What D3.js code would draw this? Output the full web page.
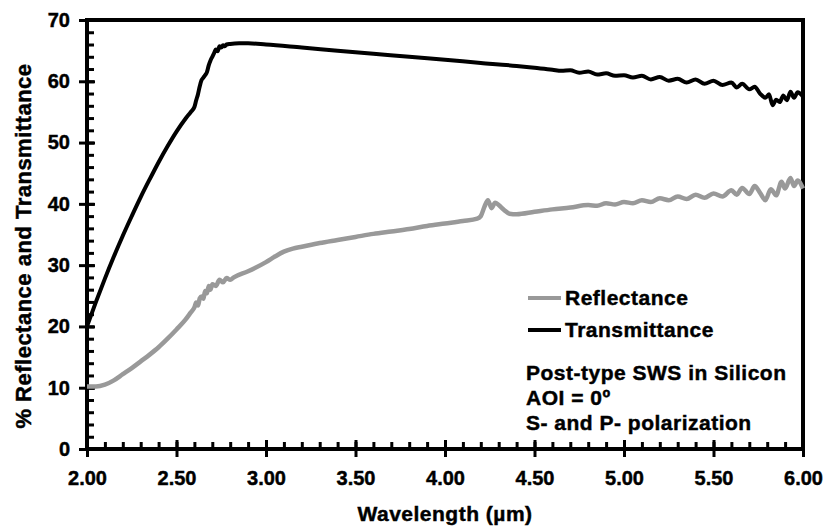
<!DOCTYPE html>
<html>
<head>
<meta charset="utf-8">
<script src="https://cdn.jsdelivr.net/npm/d3@7"></script>
<style>
  body { margin: 0; background: #fff; }
  text { font-family: "Liberation Sans", Arial, sans-serif; font-weight: bold; fill: #000; stroke: #000; stroke-width: 0.45px; }
</style>
</head>
<body>
<svg id="chart" width="827" height="531"></svg>
<script>
// Transmittance (black)
var transWl = [2.00, 2.05, 2.10, 2.15, 2.20, 2.25, 2.30, 2.35, 2.40, 2.45, 2.50, 2.55, 2.58,
  2.60, 2.61, 2.62, 2.63, 2.64, 2.65, 2.66, 2.67, 2.68, 2.69, 2.70, 2.71, 2.72, 2.73, 2.74,
  2.75, 2.76, 2.77, 2.78, 2.80, 2.85, 2.90, 3.00, 3.20, 3.40, 3.60, 3.80, 4.00, 4.20, 4.40,
  4.50, 4.60, 4.65, 4.70, 4.75, 4.80, 4.85, 4.90, 4.95, 5.00, 5.05, 5.10, 5.15, 5.20, 5.25,
  5.30, 5.35, 5.40, 5.45, 5.50, 5.55, 5.60, 5.63, 5.66, 5.70, 5.73, 5.76, 5.79, 5.81, 5.83,
  5.85, 5.87, 5.89, 5.91, 5.93, 5.95, 5.97, 6.00];
var transVal = [20.0, 24.0, 27.8, 31.4, 34.8, 38.0, 41.1, 44.0, 46.8, 49.4, 51.8, 53.9, 55.0,
  55.8, 56.9, 57.9, 59.2, 60.2, 60.6, 61.0, 61.5, 62.6, 63.4, 64.0, 64.6, 65.2, 64.9, 65.7,
  65.5, 65.9, 65.7, 66.0, 66.1, 66.2, 66.2, 66.0, 65.5, 65.0, 64.5, 64.0, 63.5, 63.0, 62.5,
  62.2, 61.9, 61.7, 61.8, 61.4, 61.6, 61.1, 61.3, 60.9, 61.0, 60.6, 60.9, 60.3, 60.7, 60.1,
  60.4, 59.8, 60.3, 59.6, 60.1, 59.4, 59.8, 59.0, 59.6, 58.7, 59.1, 58.0, 57.3, 57.9, 56.1,
  57.0, 56.6, 57.7, 56.9, 58.3, 57.3, 58.2, 57.5];

// Reflectance (grey)
var reflWl = [2.00, 2.05, 2.10, 2.15, 2.20, 2.25, 2.30, 2.35, 2.40, 2.45, 2.50, 2.55, 2.58,
  2.60, 2.61, 2.62, 2.63, 2.64, 2.65, 2.66, 2.67, 2.68, 2.69, 2.70, 2.72, 2.74, 2.76, 2.78,
  2.80, 2.82, 2.90, 3.00, 3.05, 3.10, 3.15, 3.20, 3.30, 3.40, 3.50, 3.60, 3.70, 3.80, 3.90,
  4.00, 4.10, 4.18, 4.20, 4.22, 4.24, 4.26, 4.28, 4.30, 4.33, 4.36, 4.40, 4.50, 4.60, 4.70,
  4.80, 4.85, 4.90, 4.95, 5.00, 5.05, 5.10, 5.15, 5.20, 5.25, 5.30, 5.35, 5.40, 5.45, 5.50,
  5.55, 5.60, 5.63, 5.66, 5.70, 5.73, 5.76, 5.79, 5.82, 5.85, 5.88, 5.90, 5.93, 5.95, 5.97, 6.00];
var reflVal = [10.2, 10.2, 10.5, 11.2, 12.2, 13.2, 14.3, 15.4, 16.6, 18.0, 19.5, 21.1, 22.3,
  23.1, 23.9, 23.4, 24.6, 24.9, 24.5, 25.8, 25.4, 26.6, 26.0, 26.9, 26.6, 27.6, 27.2, 27.9,
  27.6, 28.0, 29.0, 30.5, 31.4, 32.2, 32.7, 33.0, 33.6, 34.1, 34.6, 35.1, 35.5, 35.9, 36.4,
  36.8, 37.2, 37.6, 38.0, 39.5, 40.6, 39.3, 40.2, 39.8, 39.0, 38.4, 38.3, 38.7, 39.1, 39.4,
  39.8, 39.7, 40.1, 39.9, 40.3, 40.1, 40.6, 40.3, 40.9, 40.6, 41.2, 40.8, 41.5, 41.0, 41.7,
  41.2, 42.2, 41.5, 42.6, 41.6, 42.9, 41.8, 40.6, 42.4, 41.4, 43.6, 42.5, 44.2, 42.9, 43.8, 42.5];

var xTicks = [2.0, 2.5, 3.0, 3.5, 4.0, 4.5, 5.0, 5.5, 6.0];
var yTicks = [0, 10, 20, 30, 40, 50, 60, 70];
var legendNames = ["Reflectance", "Transmittance"];
var legendColors = ["#999999", "#000000"];
var noteLines = ["Post-type SWS in Silicon", "AOI = 0\u00ba", "S- and P- polarization"];

var svg = d3.select("#chart"),
    width = +svg.attr("width"),
    height = +svg.attr("height"),
    margin = {top: 20, right: 24, bottom: 82, left: 87};

var x = d3.scaleLinear().domain([2, 6]).range([margin.left, width - margin.right]);
var y = d3.scaleLinear().domain([0, 70]).range([height - margin.bottom, margin.top]);

var xMinor = d3.range(20, 61).map(function(d) { return d / 10; });
var yMinor = d3.range(0, 71, 2);

function styleAxis(g) {
  g.select(".domain").remove();
  g.selectAll(".tick line").attr("stroke", "#000").attr("stroke-width", 3);
}

// x minor ticks (inside)
svg.append("g")
    .attr("transform", "translate(0," + y(0) + ")")
    .call(d3.axisTop(x).tickValues(xMinor).tickSize(7).tickFormat(""))
    .call(styleAxis);
// x major ticks inside part
svg.append("g")
    .attr("transform", "translate(0," + y(0) + ")")
    .call(d3.axisTop(x).tickValues(xTicks).tickSize(9).tickFormat(""))
    .call(styleAxis);
// x major ticks outside + labels
svg.append("g")
    .attr("transform", "translate(0," + y(0) + ")")
    .call(d3.axisBottom(x).tickValues(xTicks).tickSize(8).tickPadding(14).tickFormat(d3.format(".2f")))
    .call(styleAxis)
    .selectAll("text").style("font-size", "20px");

// y minor ticks (inside)
svg.append("g")
    .attr("transform", "translate(" + x(2) + ",0)")
    .call(d3.axisRight(y).tickValues(yMinor).tickSize(7).tickFormat(""))
    .call(styleAxis);
svg.append("g")
    .attr("transform", "translate(" + x(2) + ",0)")
    .call(d3.axisRight(y).tickValues(yTicks).tickSize(8).tickFormat(""))
    .call(styleAxis);
svg.append("g")
    .attr("transform", "translate(" + x(2) + ",0)")
    .call(d3.axisLeft(y).tickValues(yTicks).tickSize(8).tickPadding(9))
    .call(styleAxis)
    .selectAll("text").style("font-size", "20px");

// frame
svg.append("path")
    .attr("d", "M" + x(2) + "," + y(0) + "V" + y(70) + "H" + x(6) + "V" + y(0) + "H" + x(2) + "Z")
    .attr("fill", "none")
    .attr("stroke", "#000")
    .attr("stroke-width", 4)
    .attr("stroke-linejoin", "miter");

var line = d3.line()
    .x(function(d) { return x(d[0]); })
    .y(function(d) { return y(d[1]); })
    .curve(d3.curveMonotoneX);

svg.append("path")
    .datum(reflWl.map(function(w, i) { return [w, reflVal[i]]; }))
    .attr("d", line)
    .attr("fill", "none")
    .attr("stroke", legendColors[0])
    .attr("stroke-width", 4.5)
    .attr("stroke-linejoin", "round");

svg.append("path")
    .datum(transWl.map(function(w, i) { return [w, transVal[i]]; }))
    .attr("d", line)
    .attr("fill", "none")
    .attr("stroke", legendColors[1])
    .attr("stroke-width", 4)
    .attr("stroke-linejoin", "round");

// axis titles
svg.append("text")
    .attr("x", (x(2) + x(6)) / 2)
    .attr("y", 521)
    .attr("text-anchor", "middle")
    .style("font-size", "21px")
    .style("letter-spacing", "0.5px")
    .text("Wavelength (\u00b5m)");

svg.append("text")
    .attr("transform", "translate(31,246) rotate(-90)")
    .attr("text-anchor", "middle")
    .style("font-size", "22px")
    .style("letter-spacing", "0.5px")
    .text("% Reflectance and Transmittance");

// legend
var legend = svg.append("g").attr("transform", "translate(528,298)");
legendNames.forEach(function(name, i) {
  var g = legend.append("g").attr("transform", "translate(0," + i * 32 + ")");
  g.append("line")
      .attr("x1", 0).attr("x2", 33)
      .attr("stroke", legendColors[i])
      .attr("stroke-width", 4);
  g.append("text")
      .attr("x", 37).attr("y", 7)
      .style("font-size", "21px")
      .style("letter-spacing", "0.5px")
      .text(name);
});

// note
svg.append("g").selectAll("text")
    .data(noteLines)
  .enter().append("text")
    .attr("x", 526)
    .attr("y", function(d, i) { return 380 + i * 25; })
    .style("font-size", "21px")
    .style("letter-spacing", "0.5px")
    .text(function(d) { return d; });
</script>
</body>
</html>
